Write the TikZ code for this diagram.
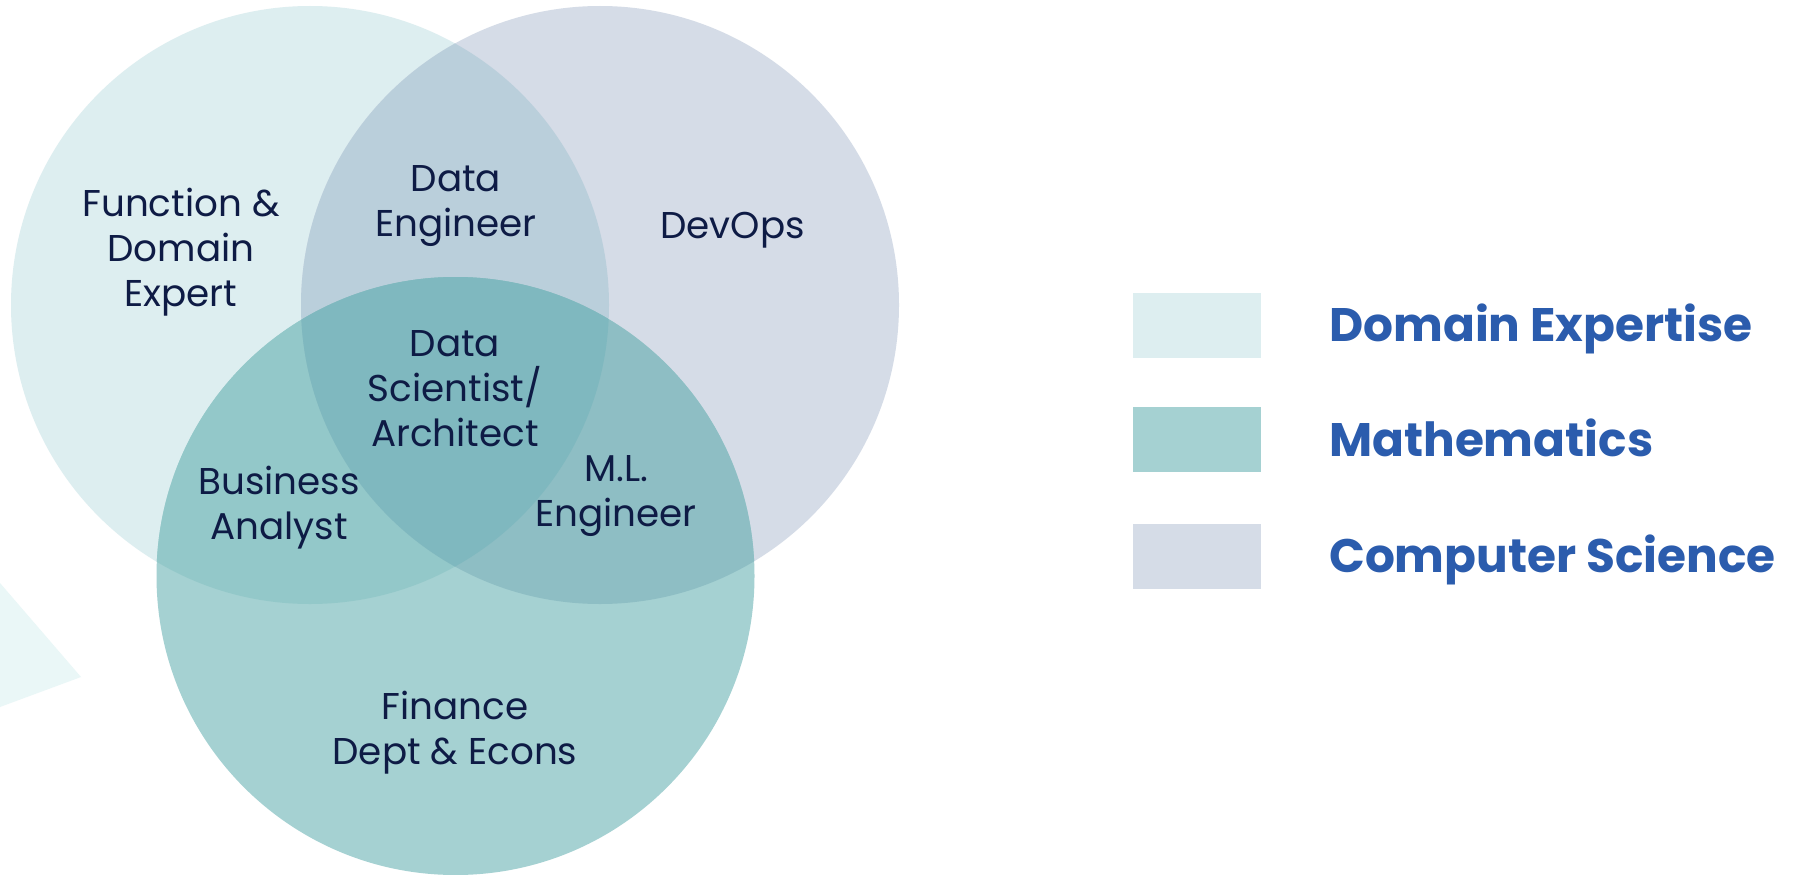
\documentclass[tikz,border=0pt]{standalone}
\usepackage{fontspec}
\setmainfont{Poppins}
\definecolor{domC}{HTML}{DDEEF0}
\definecolor{csC}{HTML}{D5DCE7}
\definecolor{mathC}{HTML}{A5D1D2}
\definecolor{dcC}{HTML}{BACFDB}
\definecolor{dmC}{HTML}{93C8C9}
\definecolor{cmC}{HTML}{8EBEC4}
\definecolor{allC}{HTML}{7FB8BF}
\definecolor{triC}{HTML}{EAF7F7}
\definecolor{labC}{HTML}{0E1B45}
\definecolor{legC}{HTML}{2B5CAD}
\tikzset{
  lab/.style={text=labC, align=center, anchor=base, font=\fontsize{37.3}{45}\selectfont, inner sep=0pt},
  legtext/.style={text=legC, anchor=base west, font=\fontsize{47}{56}\selectfont\bfseries, inner sep=0pt},
  swatch/.style={minimum width=128pt, minimum height=65pt, inner sep=0pt, draw=none},
}
\begin{document}
\begin{tikzpicture}[x=1pt,y=-1pt]
\useasboundingbox (0,0) rectangle (1793,875);
\fill[white] (0,0) rectangle (1793,875);
\coordinate (D) at (310,305);
\coordinate (C) at (600,305);
\coordinate (M) at (455.5,576);
\def\R{299pt}
% faint triangle
\fill[triC] (0,583) -- (81,677) -- (0,707) -- cycle;
% circles
\fill[domC] (D) circle (\R);
\fill[csC] (C) circle (\R);
\fill[mathC] (M) circle (\R);
\begin{scope}\clip (D) circle (\R); \fill[dcC] (C) circle (\R); \end{scope}
\begin{scope}\clip (D) circle (\R); \fill[dmC] (M) circle (\R); \end{scope}
\begin{scope}\clip (C) circle (\R); \fill[cmC] (M) circle (\R); \end{scope}
\begin{scope}\clip (D) circle (\R); \clip (C) circle (\R); \fill[allC] (M) circle (\R); \end{scope}
% labels (anchored at last-line baseline)
\node[lab] (fde) at (181,306) {Function \&\\Domain\\Expert};
\node[lab] (de) at (456,236.5) {Data\\Engineer};
\node[lab] (dev) at (732.5,238.3) {DevOps};
\node[lab] (ds) at (455,446.7) {Data\\Scientist/\\Architect};
\node[lab] (ba) at (279,539.5) {Business\\Analyst};
\node[lab] (ml) at (616,526) {M.L.\\Engineer};
\node[lab] (fin) at (455,764) {Finance\\Dept \& Econs};
% legend
\node[swatch, fill=domC] (s1) at (1197,325.5) {};
\node[swatch, fill=mathC] (s2) at (1197,439.5) {};
\node[swatch, fill=csC] (s3) at (1197,556.5) {};
\node[legtext] (l1) at (1329,341) {Domain Expertise};
\node[legtext] (l2) at (1329,456) {Mathematics};
\node[legtext] (l3) at (1329,572) {Computer Science};
\end{tikzpicture}
\end{document}
